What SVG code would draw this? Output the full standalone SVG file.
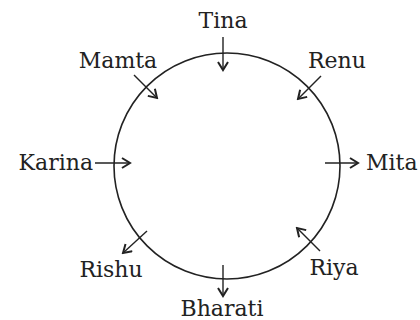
<svg xmlns="http://www.w3.org/2000/svg" width="420" height="320" viewBox="0 0 420 320">
<style>
text{font-family:"DejaVu Serif","Liberation Serif",serif;font-size:22px;fill:#222}
.c{fill:none;stroke:#222;stroke-width:1.6}
.a{fill:none;stroke:#222;stroke-width:1.4;marker-end:url(#h)}
</style>
<defs>
<marker id="h" viewBox="0 0 12 12" refX="10" refY="6" markerWidth="12" markerHeight="12" markerUnits="userSpaceOnUse" orient="auto">
<path d="M2,1 L10,6 L2,11" fill="none" stroke="#222" stroke-width="2"/>
</marker>
</defs>
<circle class="c" cx="227" cy="166" r="113"/>
<g id="connectors">
<line class="a" x1="223" y1="37" x2="223" y2="70"/>
<line class="a" x1="134" y1="75" x2="157" y2="98"/>
<line class="a" x1="321" y1="76" x2="298" y2="99"/>
<line class="a" x1="95" y1="163" x2="130" y2="163"/>
<line class="a" x1="325" y1="163" x2="358" y2="163"/>
<line class="a" x1="147" y1="231" x2="123" y2="253"/>
<line class="a" x1="320" y1="251" x2="297" y2="228"/>
<line class="a" x1="223" y1="265" x2="223" y2="296"/>
</g>
<g id="tina"><text x="223" y="28" text-anchor="middle">Tina</text></g>
<g id="mamta"><text x="118" y="68" text-anchor="middle">Mamta</text></g>
<g id="renu"><text x="337" y="68" text-anchor="middle">Renu</text></g>
<g id="karina"><text x="93" y="170" text-anchor="end">Karina</text></g>
<g id="mita"><text x="366" y="170">Mita</text></g>
<g id="rishu"><text x="111" y="277" text-anchor="middle">Rishu</text></g>
<g id="riya"><text x="334" y="275" text-anchor="middle">Riya</text></g>
<g id="bharati"><text x="222" y="316" text-anchor="middle">Bharati</text></g>
</svg>
